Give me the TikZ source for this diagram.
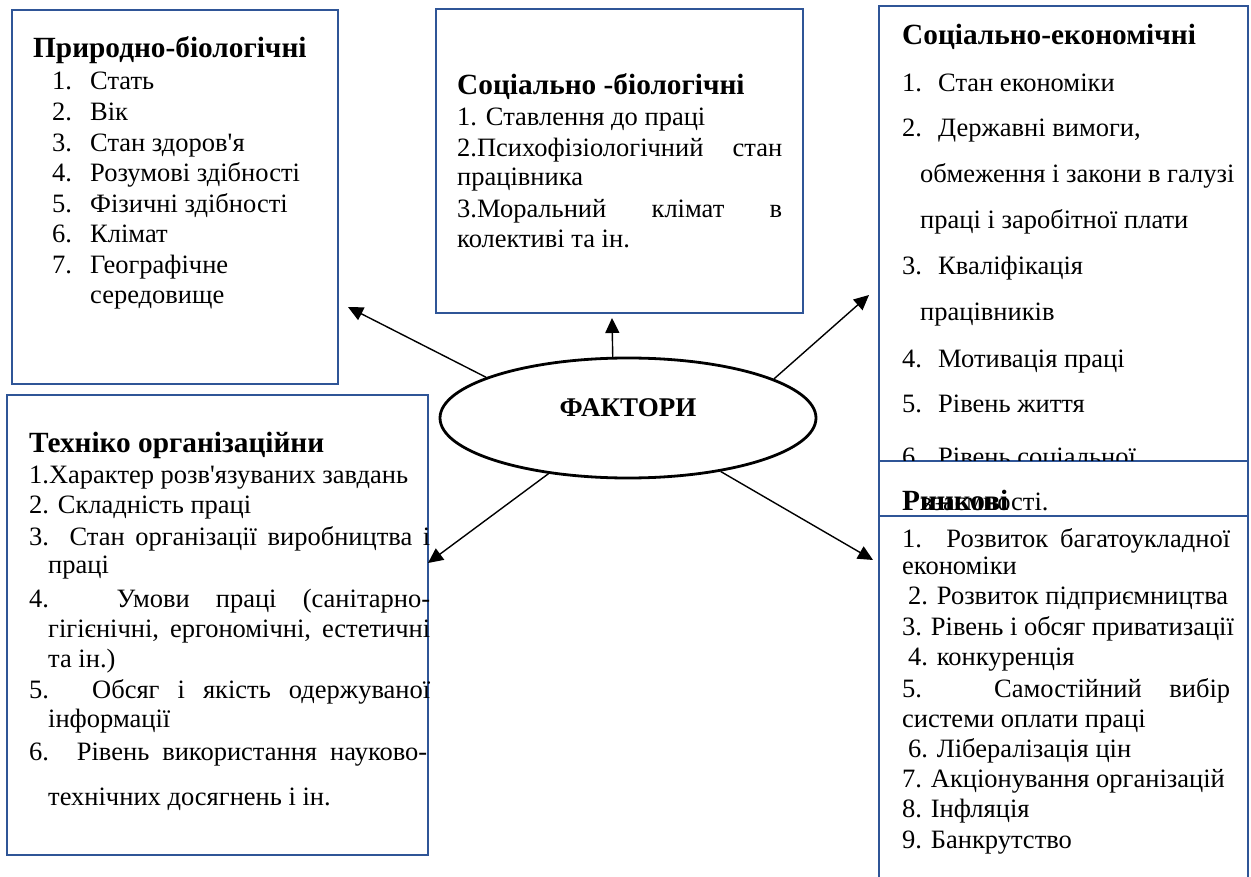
\documentclass[tikz,border=0pt]{standalone}
\usepackage{fontspec}
\setmainfont{Liberation Serif}[Ligatures=TeXOff]
\usetikzlibrary{arrows.meta,shapes.geometric}
\definecolor{boxblue}{RGB}{47,85,151}
\newcommand\txtline[4]{\node[txt] (#1) at (#2,#3) {#4};}
\newcommand\justline[5]{\node[txt] (#1) at (#2,#3) {\makebox[#4pt][s]{#5}};}
\newcommand\numb[2]{\makebox[#1pt][l]{#2}}
\begin{document}
\begin{tikzpicture}[x=1pt,y=-1pt,
  frame/.style={draw=boxblue,line width=2pt},
  txt/.style={anchor=base west,inner sep=0pt,font=\fontsize{26.5}{30}\selectfont},
  hdr/.style={anchor=base west,inner sep=0pt,font=\fontsize{29.3}{33}\selectfont\bfseries},
  arr/.style={line width=1.4pt,-{Triangle[length=15pt,width=14pt]}}]
\useasboundingbox (0,0) rectangle (1251,877);

% frames
\draw[frame] (12,10) rectangle (338,384);
\draw[frame] (436,9) rectangle (803,313);
\draw[frame] (879,6) rectangle (1248,461);
\draw[frame] (7,395) rectangle (428,855);
\draw[frame] (879,461) rectangle (1248,516);
\draw[frame] (879,880) -- (879,516) -- (1248,516) -- (1248,880);

% Box 1
\node[hdr] (h1) at (33,58) {Природно-біологічні};
\txtline{a1}{52}{90}{\numb{38}{1.}Стать}
\txtline{a2}{52}{121}{\numb{38}{2.}Вік}
\txtline{a3}{52}{152}{\numb{38}{3.}Стан здоров'я}
\txtline{a4}{52}{182}{\numb{38}{4.}Розумові здібності}
\txtline{a5}{52}{213}{\numb{38}{5.}Фізичні здібності}
\txtline{a6}{52}{243}{\numb{38}{6.}Клімат}
\txtline{a7}{52}{274}{\numb{38}{7.}Географічне}
\txtline{a8}{90}{304}{середовище}

% Box 2
\node[hdr] (h2) at (457,95) {Соціально -біологічні};
\txtline{b1}{457}{126}{1. Ставлення до праці}
\justline{b2}{457}{157}{325}{2.Психофізіологічний стан}
\txtline{b3}{457}{186}{працівника}
\justline{b4}{457}{218}{325}{3.Моральний клімат в}
\txtline{b5}{457}{248}{колективі та ін.}

% Box 3
\node[hdr] (h3) at (902,45) {Соціально-економічні};
\txtline{c1}{902}{92}{\numb{36}{1.}Стан економіки}
\txtline{c2}{902}{137}{\numb{36}{2.}Державні вимоги,}
\txtline{c3}{920}{183}{обмеження і закони в галузі}
\txtline{c4}{920}{229}{праці і заробітної плати}
\txtline{c5}{902}{275}{\numb{36}{3.}Кваліфікація}
\txtline{c6}{920}{321}{працівників}
\txtline{c7}{902}{367}{\numb{36}{4.}Мотивація праці}
\txtline{c8}{902}{413}{\numb{36}{5.}Рівень життя}
\begin{scope}
\clip (879,6) rectangle (1248,460);
\txtline{c9}{902}{465}{\numb{36}{6.}Рівень соціальної}
\end{scope}
\txtline{c10}{920}{510}{взаємності.}

% Box 5 (Ринкові)
\node[hdr] (h5) at (902,510) {Ринкові};
\justline{e1}{902}{547}{328}{1. Розвиток багатоукладної}
\txtline{e2}{902}{574}{економіки}
\txtline{e3}{908}{604}{2. Розвиток підприємництва}
\txtline{e4}{902}{635}{3. Рівень і обсяг приватизації}
\txtline{e5}{908}{665}{4. конкуренція}
\justline{e6}{902}{697}{328}{5. Самостійний вибір}
\txtline{e7}{902}{727}{системи оплати праці}
\txtline{e8}{908}{757}{6. Лібералізація цін}
\txtline{e9}{902}{787}{7. Акціонування організацій}
\txtline{e10}{902}{817}{8. Інфляція}
\txtline{e11}{902}{848}{9. Банкрутство}

% Box 4
\node[hdr] (h4) at (29,452) {Техніко організаційни};
\txtline{d1}{29}{483}{1.Характер розв'язуваних завдань}
\txtline{d2}{29}{513}{2. Складність праці}
\justline{d3}{29}{545}{401}{3. Стан організації виробництва і}
\txtline{d4}{48}{573}{праці}
\justline{d5}{29}{607}{401}{4. Умови праці (санітарно-}
\justline{d6}{48}{637}{382}{гігієнічні, ергономічні, естетичні}
\txtline{d7}{48}{667}{та ін.)}
\justline{d8}{29}{698}{401}{5. Обсяг і якість одержуваної}
\txtline{d9}{48}{727}{інформації}
\justline{d10}{29}{760}{398}{6. Рівень використання науково-}
\txtline{d11}{48}{805}{технічних досягнень і ін.}

% centre
\node[draw,ellipse,line width=2.8pt,minimum width=376pt,minimum height=120pt,inner sep=0pt] (fact) at (628,418) {};
\node[font=\fontsize{27}{30}\selectfont\bfseries,inner sep=0pt] (factlbl) at (628,408) {ФАКТОРИ};

\coordinate (t1) at (348,307);
\coordinate (t2) at (612,318);
\coordinate (t3) at (869,295);
\coordinate (t4) at (428,563);
\coordinate (t5) at (873,560);
\draw[arr] (fact.164.9) -- (t1);
\draw[arr] (fact.104.7) -- (t2);
\draw[arr] (fact.15.8) -- (t3);
\draw[arr] (fact.215.4) -- (t4);
\draw[arr] (fact.-30.9) -- (t5);
\end{tikzpicture}
\end{document}
